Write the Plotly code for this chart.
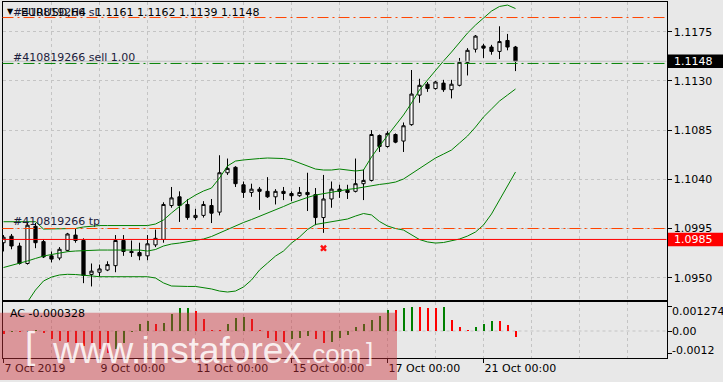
import plotly.graph_objects as go

# ---------------- data (EURUSD H4, bar index 0 = 7 Oct 2019 00:00) ----------------
bars = list(range(65))
opens = [1.0982, 1.0988, 1.0979, 1.0963, 1.0997, 1.0983, 1.0970, 1.0968, 1.0975, 1.0989,
         1.0984, 1.0953, 1.0955, 1.0957, 1.0961, 1.0984, 1.0974, 1.0973, 1.0970, 1.0980,
         1.0985, 1.1016, 1.1024, 1.1017, 1.1005, 1.1007, 1.1016, 1.1010, 1.1046, 1.1051,
         1.1035, 1.1028, 1.1031, 1.1029, 1.1024, 1.1029, 1.1027, 1.1025, 1.1028, 1.1026,
         1.1005, 1.1022, 1.1031, 1.1030, 1.1029, 1.1036, 1.1039, 1.1080, 1.1070, 1.1081,
         1.1075, 1.1090, 1.1117, 1.1127, 1.1123, 1.1128, 1.1122, 1.1126, 1.1147, 1.1159,
         1.1162, 1.1161, 1.1157, 1.1167, 1.1161]
highs = [1.0989, 1.0990, 1.0982, 1.1001, 1.1000, 1.0985, 1.0974, 1.0978, 1.0991, 1.0995,
         1.0986, 1.0963, 1.0962, 1.0965, 1.0989, 1.0989, 1.0984, 1.0982, 1.0989, 1.0994,
         1.1019, 1.1033, 1.1029, 1.1022, 1.1013, 1.1020, 1.1022, 1.1062, 1.1059, 1.1052,
         1.1038, 1.1036, 1.1033, 1.1042, 1.1031, 1.1033, 1.1029, 1.1033, 1.1046, 1.1032,
         1.1044, 1.1038, 1.1035, 1.1035, 1.1059, 1.1049, 1.1085, 1.1081, 1.1084, 1.1082,
         1.1092, 1.1140, 1.1132, 1.1129, 1.1130, 1.1131, 1.1131, 1.1151, 1.1160, 1.1172,
         1.1164, 1.1163, 1.1180, 1.1173, 1.1162]
lows = [1.0974, 1.0976, 1.0962, 1.0962, 1.0977, 1.0968, 1.0964, 1.0966, 1.0974, 1.0982,
        1.0945, 1.0942, 1.0951, 1.0956, 1.0955, 1.0970, 1.0969, 1.0966, 1.0966, 1.0978,
        1.0982, 1.1014, 1.1001, 1.1003, 1.1003, 1.1005, 1.1000, 1.1007, 1.1044, 1.1033,
        1.1023, 1.1024, 1.1012, 1.1023, 1.1017, 1.1021, 1.1020, 1.1024, 1.1011, 1.0998,
        1.0991, 1.1014, 1.1023, 1.1022, 1.1028, 1.1021, 1.1038, 1.1065, 1.1069, 1.1073,
        1.1065, 1.1089, 1.1110, 1.1120, 1.1122, 1.1120, 1.1114, 1.1125, 1.1135, 1.1156,
        1.1151, 1.1154, 1.1150, 1.1158, 1.1139]
closes = [1.0987, 1.0979, 1.0963, 1.0998, 1.0982, 1.0969, 1.0967, 1.0976, 1.0990, 1.0984,
          1.0952, 1.0956, 1.0958, 1.0962, 1.0984, 1.0974, 1.0973, 1.0970, 1.0981, 1.0986,
          1.1017, 1.1023, 1.1016, 1.1005, 1.1007, 1.1017, 1.1009, 1.1046, 1.1050, 1.1036,
          1.1028, 1.1031, 1.1029, 1.1024, 1.1029, 1.1027, 1.1025, 1.1028, 1.1026, 1.1005,
          1.1022, 1.1031, 1.1029, 1.1028, 1.1036, 1.1039, 1.1081, 1.1070, 1.1082, 1.1074,
          1.1089, 1.1118, 1.1126, 1.1123, 1.1129, 1.1122, 1.1127, 1.1147, 1.1158, 1.1171,
          1.1160, 1.1157, 1.1166, 1.1161, 1.1148]

bb_upper = [1.10012, 1.10012, 1.10012, 1.10012, 1.10012, 1.09945, 1.09945, 1.09945, 1.09945, 1.09950,
            1.09964, 1.09973, 1.09977, 1.09977, 1.09977, 1.09977, 1.09977, 1.09977, 1.09977, 1.09991,
            1.10028, 1.10092, 1.10156, 1.10211, 1.10256, 1.10293, 1.10320, 1.10412, 1.10522, 1.10567,
            1.10577, 1.10586, 1.10590, 1.10595, 1.10595, 1.10590, 1.10577, 1.10549, 1.10522, 1.10494,
            1.10485, 1.10485, 1.10494, 1.10485, 1.10476, 1.10485, 1.10604, 1.10705, 1.10796, 1.10888,
            1.10988, 1.11098, 1.11217, 1.11308, 1.11400, 1.11482, 1.11564, 1.11656, 1.11738, 1.11811,
            1.11875, 1.11939, 1.11981, 1.11994, 1.11962]
bb_middle = [1.09593, 1.09612, 1.09630, 1.09653, 1.09676, 1.09698, 1.09712, 1.09726, 1.09738, 1.09744,
             1.09749, 1.09753, 1.09753, 1.09753, 1.09753, 1.09753, 1.09753, 1.09753, 1.09744, 1.09758,
             1.09790, 1.09808, 1.09817, 1.09827, 1.09840, 1.09854, 1.09877, 1.09909, 1.09945, 1.09977,
             1.10005, 1.10032, 1.10060, 1.10092, 1.10119, 1.10151, 1.10183, 1.10211, 1.10234, 1.10256,
             1.10270, 1.10284, 1.10298, 1.10307, 1.10316, 1.10330, 1.10343, 1.10353, 1.10362, 1.10375,
             1.10403, 1.10449, 1.10503, 1.10549, 1.10595, 1.10631, 1.10668, 1.10732, 1.10796, 1.10878,
             1.10970, 1.11043, 1.11116, 1.11171, 1.11226]
bb_lower = [1.09131, 1.09177, 1.09223, 1.09278, 1.09387, 1.09470, 1.09506, 1.09525, 1.09531, 1.09529,
            1.09525, 1.09516, 1.09509, 1.09509, 1.09509, 1.09509, 1.09509, 1.09509, 1.09509, 1.09497,
            1.09452, 1.09424, 1.09420, 1.09420, 1.09420, 1.09410, 1.09397, 1.09378, 1.09369, 1.09378,
            1.09415, 1.09479, 1.09570, 1.09634, 1.09698, 1.09744, 1.09817, 1.09872, 1.09941, 1.09987,
            1.10000, 1.10009, 1.10023, 1.10037, 1.10064, 1.10087, 1.10074, 1.10014, 1.09973, 1.09950,
            1.09936, 1.09891, 1.09849, 1.09827, 1.09817, 1.09822, 1.09836, 1.09854, 1.09881, 1.09918,
            1.09982, 1.10083, 1.10211, 1.10339, 1.10467]

ac_values = [-0.000175, -0.000030, -0.000050, -0.000030, 0.000015, -0.000110, -0.000420, -0.000530,
             -0.000580, -0.000640, -0.000800, -0.000820, -0.000960, -0.001150, -0.000960, -0.000620,
             -0.000040, 0.000360, 0.000530, 0.000360, 0.000440, 0.000890, 0.001200, 0.001240,
             0.001060, 0.000620, 0.000040, 0.000015, 0.000360, 0.000690, 0.000720, 0.000620,
             0.000020, -0.000360, -0.000530, -0.000580, -0.000420, -0.000350, -0.000270, -0.000450,
             -0.000640, -0.000560, -0.000370, -0.000210, 0.000210, 0.000370, 0.000560, 0.000810,
             0.001140, 0.001110, 0.001200, 0.001274, 0.001260, 0.001230, 0.001220, 0.001270,
             0.000580, 0.000230, 0.000050, 0.000230, 0.000360, 0.000530, 0.000510, 0.000320,
             -0.000328]

price_ticks = [1.0950, 1.0995, 1.1040, 1.1085, 1.1130, 1.1175]
ac_ticks = [0.001274, 0.0, -0.0012]
ac_tick_text = ["0.001274", "0.00", "-0.0012"]
day_labels = ["7 Oct 2019", "9 Oct 00:00", "11 Oct 00:00", "15 Oct 00:00", "17 Oct 00:00", "21 Oct 00:00"]
day_label_bars = [0, 12, 24, 36, 48, 60]

symbol_name = "EURUSD,H4"
order_id = "#410819266"
order_lots = "1.00"
sl_level = 1.1188
tp_level = 1.0995
order_open = 1.1146
red_level = 1.0985
bid_price = 1.1148
closed_bar = 40
closed_price = 1.0977

# ---------------- layout constants ----------------
W, H = 723, 382
BG = "#e8e8e8"
GRID = "#c4c4c4"
FONT = "DejaVu Sans"
PX_L, PX_R = 2.5, 666.5          # plot area (pixels)
MAIN_T, MAIN_B = 2.0, 300.0
AC_T, AC_B = 302.0, 358.0
BAR_PX = 8.0
y_lo, y_hi = 1.09296, 1.12022
ac_lo, ac_hi = -0.001433, 0.001539

def fx(px):
    return px / W

def fy(py):
    return 1 - py / H

x_lo = -0.125
x_hi = x_lo + (PX_R - PX_L) / BAR_PX
grid_bars = list(range(6, 84, 6))

fig = go.Figure()

fig.add_trace(go.Candlestick(
    x=bars, open=opens, high=highs, low=lows, close=closes,
    increasing=dict(line=dict(color="black", width=1), fillcolor="white"),
    decreasing=dict(line=dict(color="black", width=1), fillcolor="black"),
    whiskerwidth=0, xaxis="x", yaxis="y", showlegend=False, hoverinfo="skip"))

for band in (bb_upper, bb_middle, bb_lower):
    fig.add_trace(go.Scatter(x=bars, y=band, mode="lines",
                             line=dict(color="#008000", width=1),
                             xaxis="x", yaxis="y", showlegend=False, hoverinfo="skip"))

fig.add_trace(go.Scatter(x=[closed_bar], y=[closed_price], mode="markers",
                         marker=dict(symbol="x", size=6, color="#ff1010"),
                         xaxis="x", yaxis="y", showlegend=False, hoverinfo="skip"))

ac_colors = ["#ff0000"] + ["#008000" if ac_values[k] > ac_values[k - 1] else "#ff0000"
                           for k in range(1, len(ac_values))]
fig.add_trace(go.Bar(x=bars, y=ac_values, width=1.0 / BAR_PX, marker=dict(color=ac_colors, line=dict(width=0)),
                     xaxis="x2", yaxis="y2", showlegend=False, hoverinfo="skip"))

axis_common = dict(showline=True, linecolor="black", linewidth=1, mirror=True, zeroline=False,
                   tickfont=dict(family=FONT, size=11, color="black"))

fig.update_layout(
    width=W, height=H, margin=dict(l=0, r=0, t=0, b=0),
    paper_bgcolor=BG, plot_bgcolor=BG, showlegend=False, boxgap=0.42, bargap=0,
    xaxis=dict(domain=[fx(PX_L), fx(PX_R)], range=[x_lo, x_hi], anchor="y",
               tickmode="array", tickvals=grid_bars, showticklabels=False, ticks="",
               showgrid=True, gridcolor=GRID, griddash="3px,3px", gridwidth=1,
               rangeslider=dict(visible=False), **axis_common),
    yaxis=dict(domain=[fy(MAIN_B), fy(MAIN_T)], range=[y_lo, y_hi], anchor="x", side="right",
               tickmode="array", tickvals=price_ticks, ticktext=[f"{v:.4f}" for v in price_ticks],
               ticks="outside", ticklen=4, tickcolor="black",
               showgrid=True, gridcolor=GRID, griddash="3px,3px", gridwidth=1, **axis_common),
    xaxis2=dict(domain=[fx(PX_L), fx(PX_R)], range=[x_lo, x_hi], anchor="y2",
                tickmode="array", tickvals=day_label_bars, ticktext=day_labels,
                ticks="outside", ticklen=4, tickcolor="black", ticklabelposition="outside right",
                showgrid=True, gridcolor=GRID, griddash="3px,3px", gridwidth=1,
                minor=dict(tickvals=[b for b in grid_bars if b not in day_label_bars],
                           showgrid=True, gridcolor=GRID, griddash="3px,3px", ticks=""),
                **axis_common),
    yaxis2=dict(domain=[fy(AC_B), fy(AC_T)], range=[ac_lo, ac_hi], anchor="x2", side="right",
                tickmode="array", tickvals=ac_ticks, showticklabels=False,
                ticks="outside", ticklen=4, tickcolor="black", showgrid=False, **axis_common),
)

# level lines (drawn in paper x so no domain refs are needed)
DASHDOT = "11px,4px,2px,4px"
def hline(y, color, dash):
    fig.add_shape(type="line", xref="paper", yref="y", x0=fx(PX_L), x1=fx(PX_R), y0=y, y1=y,
                  line=dict(color=color, width=1, dash=dash), layer="above")

hline(bid_price, "#c0c0c0", "solid")
hline(sl_level, "#ff4500", DASHDOT)
hline(tp_level, "#ff4500", DASHDOT)
hline(order_open, "#008000", DASHDOT)
hline(red_level, "#ff0000", "solid")

# AC zero line
fig.add_shape(type="line", xref="paper", yref="y2", x0=fx(PX_L), x1=fx(PX_R), y0=0, y1=0,
              line=dict(color=GRID, width=1, dash="3px,3px"), layer="below")

def label(text, x, y, size=11, color="black", family=FONT, yref="paper"):
    fig.add_annotation(text=text, x=fx(x), y=(fy(y) if yref == "paper" else y), xref="paper", yref=yref,
                       xanchor="left", yanchor="middle", showarrow=False, borderpad=0,
                       font=dict(family=family, size=size, color=color))

# price boxes on the right axis
half_h = 6.7 * (y_hi - y_lo) / (MAIN_B - MAIN_T)
for lvl, col in ((bid_price, "black"), (red_level, "#ff0000")):
    fig.add_shape(type="rect", xref="paper", yref="y", x0=fx(668), x1=1.0,
                  y0=lvl - half_h, y1=lvl + half_h, fillcolor=col, line=dict(width=0), layer="above")
    label(f"{lvl:.4f}", 672.5, lvl, color="white", yref="y")

# AC axis labels
for txt, py in zip(ac_tick_text, (311.7, 331.0, 350.0)):
    label(txt, 671, py)

# chart texts
label("\u25bc", 6, 11.5, size=8)
label(f"{order_id} sl", 12, 12.5, color="#1c1c3c")
label(symbol_name, 20, 12.5)
label(f"{opens[-1]:.4f} {highs[-1]:.4f} {lows[-1]:.4f} {closes[-1]:.4f}", 94, 12.5)
label(f"{order_id} sell {order_lots}", 12, 57.5, color="#1c1c3c")
label(f"{order_id} tp", 11.5, 221.5, color="#1c1c3c")
label(f"AC {ac_values[-1]:.6f}", 9, 313.5)

# watermark
fig.add_shape(type="rect", xref="paper", yref="paper", x0=0, x1=fx(397), y0=fy(380), y1=fy(312.7),
              fillcolor="rgba(205,50,60,0.45)", line=dict(width=0), layer="above")
WM = "rgba(255,255,255,0.85)"
label("[", 24, 345, size=37, color=WM, family="Liberation Sans")
label("www.instaforex", 51, 350.5, size=37, color=WM, family="Liberation Sans")
label(".com", 304, 354, size=26, color=WM, family="Liberation Sans")
label("]", 365, 352, size=26, color=WM, family="Liberation Sans")

fig.write_html("out.html")
